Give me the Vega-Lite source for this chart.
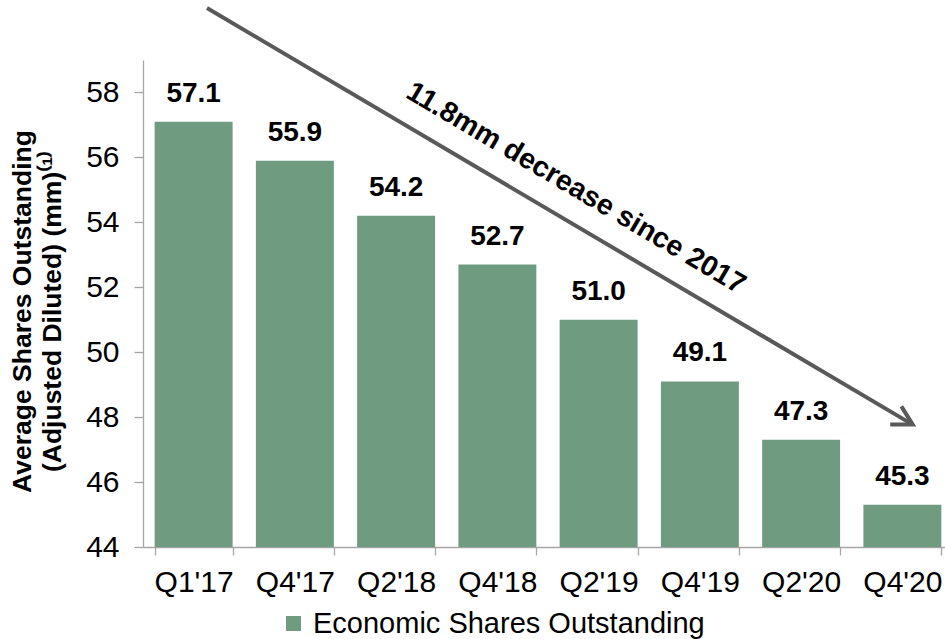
{
  "$schema": "https://vega.github.io/schema/vega-lite/v6.json",
  "width": 802,
  "height": 487,
  "autosize": "none",
  "padding": {"left": 143, "top": 60, "right": 0, "bottom": 92},
  "background": "white",
  "config": {"view": {"stroke": null}, "font": "Liberation Sans"},
  "datasets": {
    "bars": [
      {"q": "Q1'17", "v": 57.1},
      {"q": "Q4'17", "v": 55.9},
      {"q": "Q2'18", "v": 54.2},
      {"q": "Q4'18", "v": 52.7},
      {"q": "Q2'19", "v": 51.0},
      {"q": "Q4'19", "v": 49.1},
      {"q": "Q2'20", "v": 47.3},
      {"q": "Q4'20", "v": 45.3}
    ],
    "arrow": [
      {"seg": "a", "ord": 1, "px": 0.632, "py": 60.6},
      {"seg": "a", "ord": 2, "px": 7.602, "py": 47.77},
      {"seg": "b", "ord": 1, "px": 7.38, "py": 47.77},
      {"seg": "b", "ord": 2, "px": 7.602, "py": 47.77},
      {"seg": "b", "ord": 3, "px": 7.49, "py": 48.33}
    ],
    "note": [
      {"px": 4.277, "py": 55.06, "t": "11.8mm decrease since 2017"}
    ]
  },
  "layer": [
    {
      "data": {"name": "bars"},
      "encoding": {
        "x": {
          "field": "q", "type": "nominal", "sort": null,
          "scale": {"range": [0, 810], "paddingInner": 0.23, "paddingOuter": 0.115},
          "axis": {
            "title": null, "labelAngle": 0, "tickSize": 8, "tickBand": "extent",
            "labelFontSize": 30, "labelPadding": 12, "labelColor": "black",
            "domainColor": "#A6A6A6", "tickColor": "#A6A6A6", "domainWidth": 1.3, "tickWidth": 1.3
          }
        },
        "y": {
          "field": "v", "type": "quantitative",
          "scale": {"domain": [44, 59], "zero": false, "nice": false},
          "axis": {
            "title": ["Average Shares Outstanding", "(Adjusted Diluted) (mm)⁽¹⁾"],
            "values": [44, 46, 48, 50, 52, 54, 56, 58],
            "grid": false, "tickSize": 9, "labelFontSize": 30, "labelPadding": 15,
            "labelColor": "black", "domainColor": "#A6A6A6", "tickColor": "#A6A6A6",
            "domainWidth": 1.3, "tickWidth": 1.3,
            "titleFontSize": 26.5, "titleFontWeight": "bold", "titleColor": "black",
            "titleLineHeight": 30, "titlePadding": 19, "titleY": 251
          }
        }
      },
      "layer": [
        {
          "mark": {"type": "bar"},
          "encoding": {
            "y2": {"datum": 44},
            "fill": {
              "datum": "Economic Shares Outstanding", "type": "nominal",
              "scale": {"range": ["#6F9C80"]},
              "legend": {
                "orient": "none", "legendX": 136, "legendY": 549, "title": null,
                "symbolType": "square", "symbolSize": 225, "symbolStrokeWidth": 0,
                "labelFontSize": 29, "labelColor": "black", "labelOffset": 5,
                "labelLimit": 1000, "padding": 0, "symbolOffset": 0
              }
            }
          }
        },
        {
          "mark": {"type": "text", "fontSize": 28, "fontWeight": "bold", "baseline": "alphabetic", "dy": -20, "color": "black"},
          "encoding": {
            "text": {"field": "v", "type": "quantitative", "format": ".1f"}
          }
        }
      ]
    },
    {
      "data": {"name": "arrow"},
      "mark": {"type": "line", "color": "#595959", "strokeWidth": 4, "strokeJoin": "miter", "strokeCap": "butt"},
      "encoding": {
        "x": {"field": "px", "type": "quantitative", "scale": {"domain": [0, 8], "range": [0, 810], "nice": false, "zero": false}, "axis": null},
        "y": {"field": "py", "type": "quantitative", "scale": {"domain": [44, 59], "nice": false, "zero": false}, "axis": null},
        "detail": {"field": "seg"},
        "order": {"field": "ord"}
      }
    },
    {
      "data": {"name": "note"},
      "mark": {"type": "text", "fontSize": 28.5, "fontWeight": "bold", "angle": 30.6, "align": "center", "baseline": "middle", "color": "black"},
      "encoding": {
        "x": {"field": "px", "type": "quantitative", "scale": {"domain": [0, 8], "range": [0, 810], "nice": false, "zero": false}, "axis": null},
        "y": {"field": "py", "type": "quantitative", "scale": {"domain": [44, 59], "nice": false, "zero": false}, "axis": null},
        "text": {"field": "t"}
      }
    }
  ],
  "resolve": {"scale": {"x": "independent", "y": "independent"}}
}
